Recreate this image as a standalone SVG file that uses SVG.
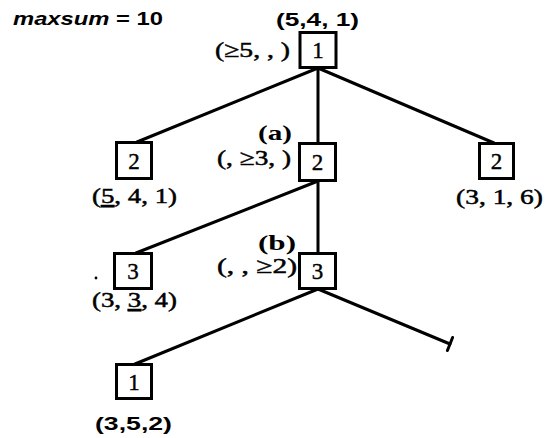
<svg xmlns="http://www.w3.org/2000/svg" width="548" height="438" viewBox="0 0 548 438">
<style>
.box{fill:#fff;stroke:#000;stroke-width:3}
.num{font-family:"Liberation Serif",serif;font-size:23px;text-anchor:middle;fill:#000;stroke:#000;stroke-width:0.4}
.lbl{font-family:"Liberation Serif",serif;font-size:22px;fill:#000;stroke:#000;stroke-width:0.5}
.tag{font-family:"Liberation Serif",serif;font-size:22px;font-weight:bold;fill:#000}
.sans{font-family:"Liberation Sans",Arial,sans-serif;font-size:18px;font-weight:bold;fill:#000}
.edge{stroke:#000;stroke-width:3;fill:none;stroke-linecap:round}
</style>
<rect width="548" height="438" fill="#fff"/>
<text class="sans" x="13" y="25" font-size="17" textLength="150" lengthAdjust="spacingAndGlyphs"><tspan font-style="italic">maxsum</tspan> = 10</text>
<g id="connectors">
<line class="edge" x1="318" y1="68" x2="137" y2="142"/>
<line class="edge" x1="318" y1="68" x2="318" y2="143"/>
<line class="edge" x1="318" y1="68" x2="494" y2="143"/>
<line class="edge" x1="318" y1="181" x2="136" y2="253"/>
<line class="edge" x1="318" y1="181" x2="318" y2="253"/>
<line class="edge" x1="318" y1="289" x2="135" y2="364"/>
<line class="edge" x1="318" y1="289" x2="450" y2="344"/>
<line class="edge" x1="452.6" y1="337.5" x2="447.4" y2="350.5"/>
</g>
<g id="n1">
<rect class="box" x="300" y="32.5" width="36" height="35"/>
<text class="num" x="318" y="58">1</text>
<text class="sans" x="276" y="26" textLength="83" lengthAdjust="spacingAndGlyphs">(5,4, 1)</text>
<text class="lbl" x="215" y="57" textLength="75" lengthAdjust="spacingAndGlyphs">(≥5, , )</text>
</g>
<g id="n2a">
<rect class="box" x="116.5" y="142.5" width="35" height="36"/>
<text class="num" x="134" y="169">2</text>
<text class="lbl" x="92" y="203" textLength="85" lengthAdjust="spacingAndGlyphs">(<tspan text-decoration="underline">5</tspan>, 4, 1)</text>
</g>
<g id="n2b">
<rect class="box" x="299.5" y="143.5" width="36" height="37"/>
<text class="num" x="317.5" y="170">2</text>
<text class="tag" x="258" y="140" textLength="34" lengthAdjust="spacingAndGlyphs">(a)</text>
<text class="lbl" x="217" y="165" textLength="74" lengthAdjust="spacingAndGlyphs">(, ≥3, )</text>
</g>
<g id="n2c">
<rect class="box" x="479.5" y="143.5" width="34" height="35"/>
<text class="num" x="496.5" y="169">2</text>
<text class="lbl" x="456" y="204" textLength="87" lengthAdjust="spacingAndGlyphs">(3, 1, 6)</text>
</g>
<g id="n3a">
<rect class="box" x="114.5" y="253.5" width="37" height="35"/>
<text class="num" x="133" y="279">3</text>
<circle cx="96" cy="278" r="1.4" fill="#000"/>
<text class="lbl" x="92" y="307" textLength="85" lengthAdjust="spacingAndGlyphs">(3, <tspan text-decoration="underline">3</tspan>, 4)</text>
</g>
<g id="n3b">
<rect class="box" x="299.5" y="253.5" width="36" height="35"/>
<text class="num" x="317.5" y="279">3</text>
<text class="tag" x="258" y="250" textLength="38" lengthAdjust="spacingAndGlyphs">(b)</text>
<text class="lbl" x="217" y="273" textLength="80" lengthAdjust="spacingAndGlyphs">(, , ≥2)</text>
</g>
<g id="n1b">
<rect class="box" x="116.5" y="364.5" width="35" height="34"/>
<text class="num" x="134" y="390">1</text>
<text class="sans" x="95" y="430" textLength="77" lengthAdjust="spacingAndGlyphs">(3,5,2)</text>
</g>
</svg>
